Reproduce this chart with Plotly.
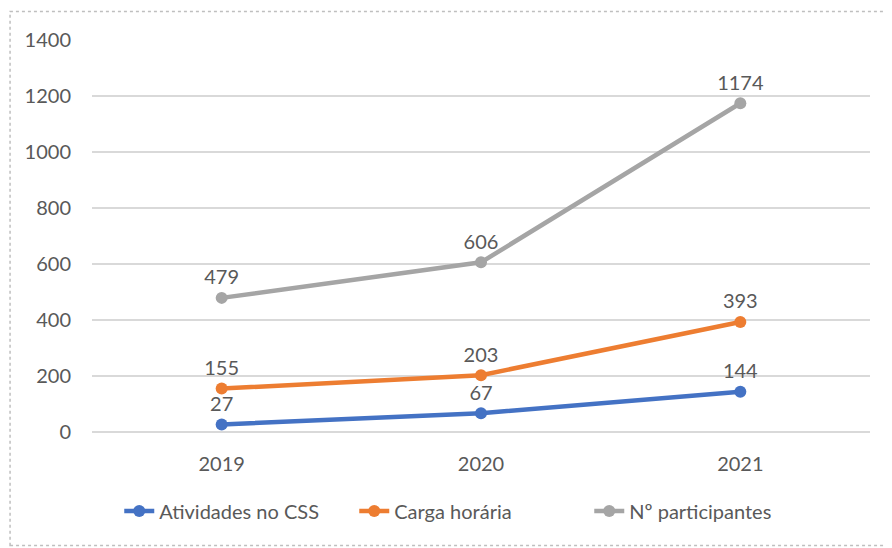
import plotly.graph_objects as go

years = ["2019", "2020", "2021"]
atividades = [27, 67, 144]
carga = [155, 203, 393]
participantes = [479, 606, 1174]
series_names = ["Atividades no CSS", "Carga horária", "Nº participantes"]
colors = ["#4472C4", "#ED7D31", "#A5A5A5"]
y_ticks = [0, 200, 400, 600, 800, 1000, 1200, 1400]

font_family = "Lato, Liberation Sans, sans-serif"
text_col = "#595959"
FS = 20

fig = go.Figure()
for name, vals, col in zip(series_names, [atividades, carga, participantes], colors):
    fig.add_trace(go.Scatter(
        x=years, y=vals, name=name, mode="lines+markers+text",
        line=dict(color=col, width=4.5),
        marker=dict(color=col, size=12),
        text=[str(v) for v in vals], textposition="top center",
        textfont=dict(size=FS, color=text_col, family=font_family),
        cliponaxis=False,
    ))

# page body has an 8px margin; compensate
OFF = 8
W0, W1 = 92 - OFF, 870.5 - OFF
H0, H1 = 40 - OFF, 432 - OFF
FW, FH = 892 - OFF, 548 - OFF
def px_x(x):
    return (x - OFF - W0) / (W1 - W0)
def px_y(y):
    return (H1 - (y - OFF)) / (H1 - H0)

fig.update_layout(
    width=FW, height=FH,
    margin=dict(l=W0, r=FW - W1, t=H0, b=FH - H1, autoexpand=False),
    paper_bgcolor="white", plot_bgcolor="white",
    font=dict(family=font_family, size=FS, color=text_col),
    showlegend=True,
    legend=dict(orientation="h", x=px_x(472), xanchor="center", y=px_y(511), yanchor="middle",
                font=dict(size=FS, color=text_col), traceorder="normal",
                entrywidth=190, entrywidthmode="pixels"),
    xaxis=dict(range=[-0.5, 2.5], showgrid=False, showline=False, ticks="",
               tickfont=dict(size=FS, color=text_col), ticklabelstandoff=18),
    yaxis=dict(range=[0, 1400], tickvals=y_ticks, showgrid=True, gridcolor="#D9D9D9", gridwidth=1.5,
               zeroline=True, zerolinecolor="#D9D9D9", zerolinewidth=1.5, showline=False,
               ticks="", tickfont=dict(size=FS, color=text_col), ticklabelstandoff=20),
    shapes=[dict(type="rect", xref="paper", yref="paper",
                 x0=px_x(10), x1=px_x(888), y0=px_y(545.5), y1=px_y(11.5),
                 line=dict(color="#BFBFBF", width=1.5, dash="dot"), layer="below")],
)

fig.write_html("out.html")
